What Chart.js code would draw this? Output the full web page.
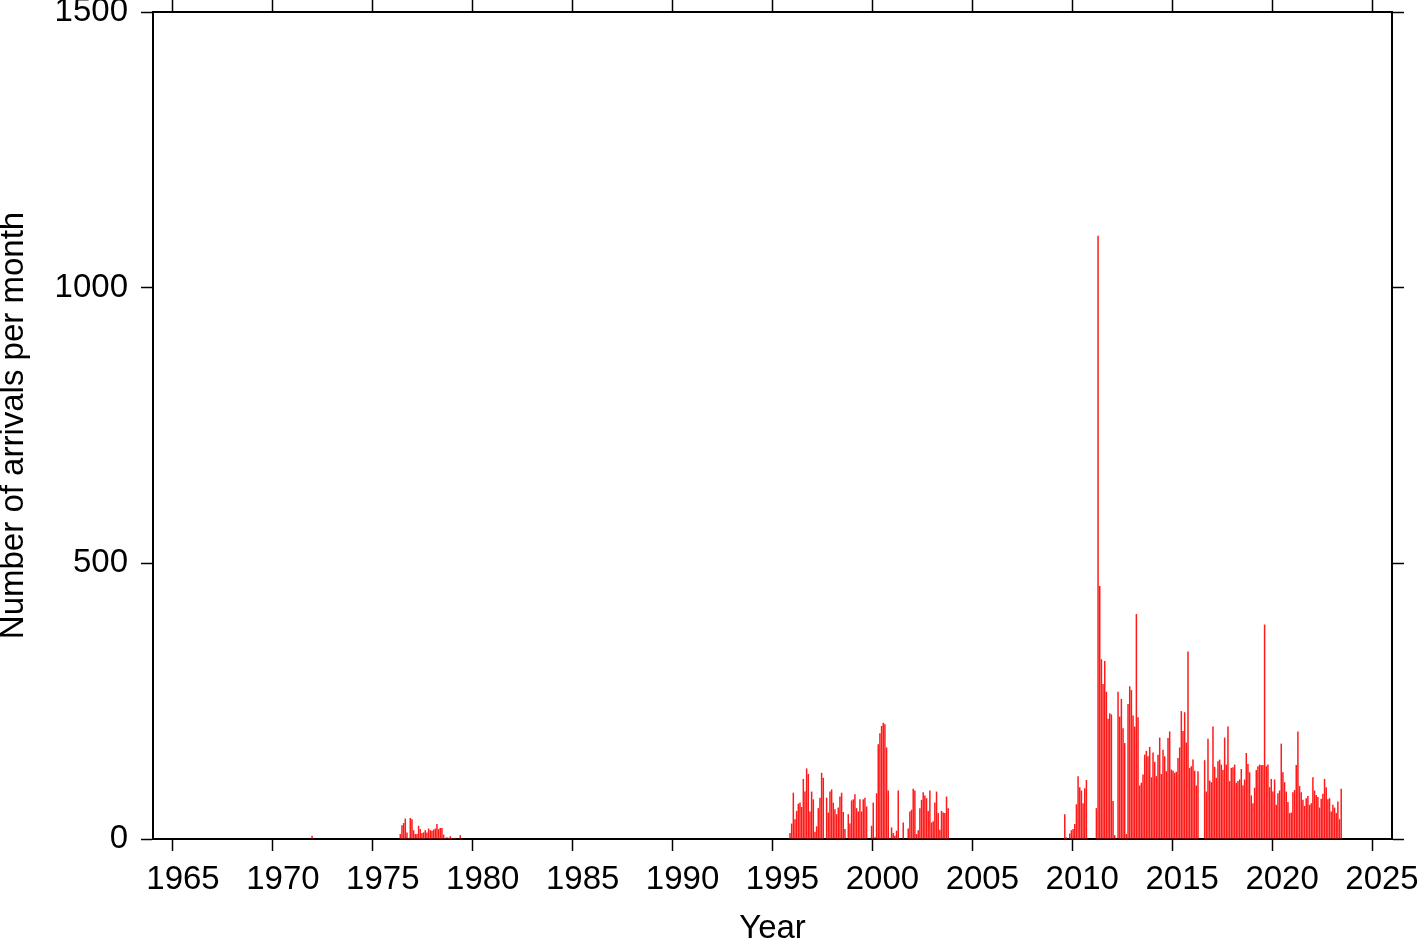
<!DOCTYPE html>
<html>
<head>
<meta charset="utf-8">
<title>Arrivals per month</title>
<script src="https://cdn.jsdelivr.net/npm/chart.js@4/dist/chart.umd.min.js"></script>
<style>
    html, body { margin: 0; padding: 0; background: #fff; }
    #chart-wrap { width: 1419px; height: 942px; }
</style>
</head>
<body>
<div id="chart-wrap"><canvas id="arrivals-chart" width="1419" height="942"></canvas></div>
<script>
// Monthly arrival counts, one array per active period, each with its first month [year, month]
const start1971 = [1971, 12];
const counts1971 = [6];

const start1976 = [1976, 5];
const counts1976 = [9, 25, 29, 37, 12, 2, 38, 36, 16, 9, 9, 24, 18, 11, 12, 16, 12, 19, 16, 15,
    17, 19, 27, 18, 20, 20, 8, 2, 3, 2, 5, 2, 2, 2, 1, 0, 7, 1];

const start1995 = [1995, 11];
const counts1995 = [11, 28, 84, 36, 51, 64, 66, 58, 109, 86, 128, 118, 50, 86, 72, 13, 23, 56, 75, 120,
    111, 0, 75, 48, 86, 90, 66, 54, 45, 57, 77, 84, 49, 18, 0, 45, 28, 70, 72, 81,
    56, 50, 72, 50, 72, 75, 59, 0, 0, 24, 66, 3, 83, 172, 192, 205, 211, 208, 166, 88,
    0, 21, 11, 6, 15, 88, 0, 0, 30, 0, 0, 19, 50, 53, 91, 88, 9, 16, 56, 71,
    85, 79, 74, 51, 88, 30, 32, 66, 86, 47, 17, 51, 48, 47, 77, 56];

const start2009 = [2009, 8];
const counts2009 = [45, 3, 0, 10, 16, 18, 27, 63, 114, 94, 88, 65, 92, 107, 0, 0, 0, 0, 0, 56,
    1094, 459, 326, 281, 323, 267, 218, 228, 226, 69, 7, 0, 267, 222, 254, 201, 174, 9, 245, 277,
    270, 224, 204, 408, 221, 97, 102, 117, 153, 160, 150, 167, 112, 157, 140, 114, 153, 184, 118, 162,
    150, 123, 183, 195, 126, 124, 120, 122, 147, 166, 232, 196, 230, 175, 340, 129, 132, 144, 124, 97,
    123];

const start2016 = [2016, 8];
const counts2016 = [143, 86, 182, 106, 103, 204, 131, 111, 141, 144, 135, 125, 184, 135, 204, 105, 129, 130, 135, 102,
    105, 108, 127, 97, 108, 156, 136, 121, 79, 65, 93, 125, 132, 135, 134, 134, 389, 132, 135, 94,
    109, 86, 108, 62, 83, 88, 173, 121, 103, 86, 67, 47, 48, 85, 89, 134, 195, 96, 85, 71,
    60, 74, 78, 62, 65, 112, 88, 80, 76, 57, 73, 82, 109, 94, 72, 74, 50, 62, 57, 47,
    68, 36, 91];

const yearTicks = [1965, 1970, 1975, 1980, 1985, 1990, 1995, 2000, 2005, 2010, 2015, 2020, 2025];
const countTicks = [0, 500, 1000, 1500];

const xTitle = 'Year';
const yTitle = 'Number of arrivals per month';

document.addEventListener('DOMContentLoaded', function() {
    const canvas = document.getElementById('arrivals-chart');

    // put each count in the middle of its month
    function toPoints(start, counts) {
        return counts.map((v, i) => ({
            x: start[0] + (start[1] - 1 + i + 0.5) / 12,
            y: v
        }));
    }

    const points = [].concat(
        toPoints(start1971, counts1971),
        toPoints(start1976, counts1976),
        toPoints(start1995, counts1995),
        toPoints(start2009, counts2009),
        toPoints(start2016, counts2016)
    );

    const font = { family: '"Liberation Sans", Arial, Helvetica, sans-serif', size: 33 };

    function fixSize(prop, size) {
        return function(scale) {
            scale[prop] = size;
            scale.paddingTop = 0;
            scale.paddingBottom = 0;
            scale.paddingLeft = 0;
            scale.paddingRight = 0;
        };
    }

    function setTicks(list) {
        return function(scale) {
            scale.ticks = list.map(v => ({ value: v }));
        };
    }

    const gridOpts = {
        display: true,
        offset: false,
        drawOnChartArea: false,
        drawTicks: true,
        tickLength: 12,
        tickColor: '#000',
        tickWidth: 1.5
    };
    const borderOpts = { display: true, color: '#000', width: 2 };

    new Chart(canvas, {
        type: 'bar',
        data: {
            datasets: [{
                label: 'Arrivals',
                data: points,
                backgroundColor: '#ff1a1a',
                borderWidth: 0,
                barPercentage: 0.9,
                categoryPercentage: 1.0
            }]
        },
        options: {
            responsive: false,
            animation: false,
            devicePixelRatio: 1,
            layout: { padding: 0 },
            plugins: {
                legend: { display: false },
                tooltip: { enabled: false }
            },
            scales: {
                x: {
                    type: 'linear',
                    position: 'bottom',
                    offset: false,
                    min: 1964,
                    max: 2026,
                    afterBuildTicks: setTicks(yearTicks),
                    afterFit: fixSize('height', 103),
                    grid: gridOpts,
                    border: borderOpts,
                    ticks: {
                        color: '#000',
                        font: font,
                        padding: 9,
                        labelOffset: 10,
                        maxRotation: 0,
                        autoSkip: false,
                        callback: v => String(v)
                    },
                    title: {
                        display: true,
                        text: xTitle,
                        color: '#000',
                        font: Object.assign({ lineHeight: 0.8 }, font),
                        padding: 0
                    }
                },
                xTop: {
                    type: 'linear',
                    position: 'top',
                    offset: false,
                    min: 1964,
                    max: 2026,
                    afterBuildTicks: setTicks(yearTicks),
                    afterFit: fixSize('height', 12),
                    grid: gridOpts,
                    border: borderOpts,
                    ticks: { display: false }
                },
                y: {
                    type: 'linear',
                    position: 'left',
                    min: 0,
                    max: 1500,
                    afterBuildTicks: setTicks(countTicks),
                    afterFit: fixSize('width', 153),
                    grid: gridOpts,
                    border: borderOpts,
                    ticks: {
                        color: '#000',
                        font: font,
                        padding: 13,
                        callback: v => String(v)
                    },
                    title: {
                        display: true,
                        text: yTitle,
                        color: '#000',
                        font: Object.assign({ lineHeight: 0.85 }, font),
                        padding: 0
                    }
                },
                yRight: {
                    type: 'linear',
                    position: 'right',
                    min: 0,
                    max: 1500,
                    afterBuildTicks: setTicks(countTicks),
                    afterFit: fixSize('width', 27),
                    grid: gridOpts,
                    border: borderOpts,
                    ticks: { display: false }
                }
            }
        }
    });
});
</script>
</body>
</html>
